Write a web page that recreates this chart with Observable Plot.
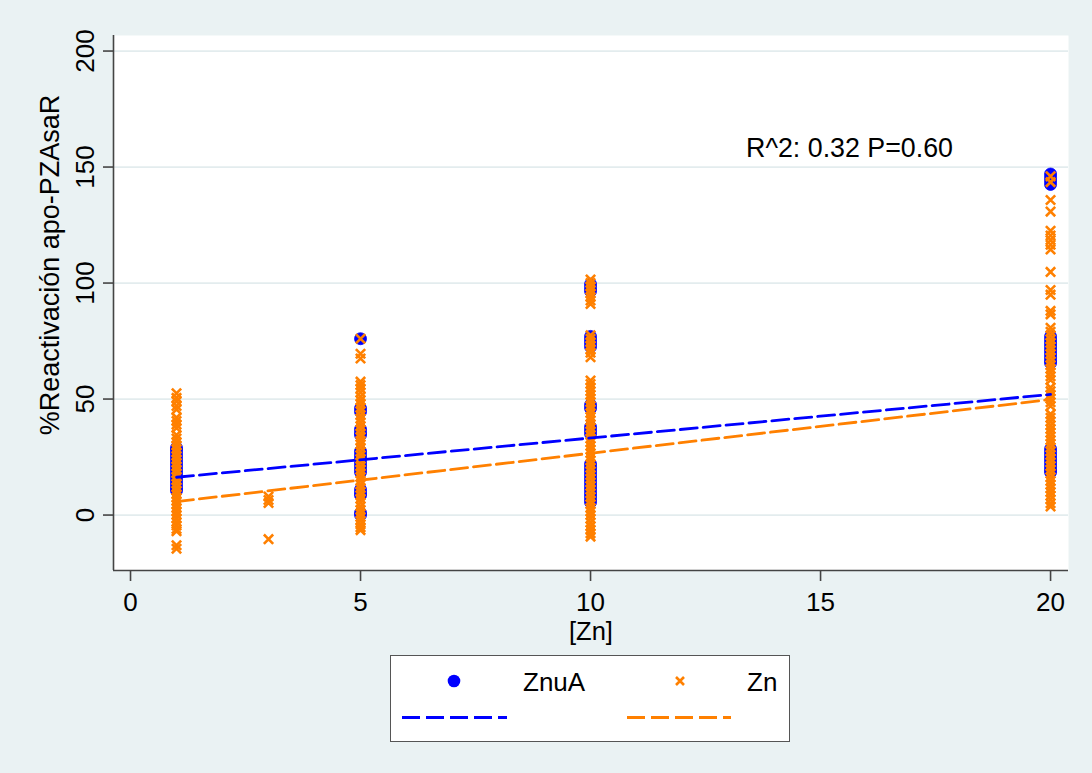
<!DOCTYPE html>
<html>
<head>
<meta charset="utf-8">
<script src="https://cdn.jsdelivr.net/npm/d3@7"></script>
<script src="https://cdn.jsdelivr.net/npm/@observablehq/plot@0.6"></script>
<style>
  body { margin: 0; background: #eaf2f3; font-family: "Liberation Sans", Arial, sans-serif; }
  #wrap { position: relative; width: 1092px; height: 773px; background: #eaf2f3; }
  #legend { position: absolute; left: 390px; top: 655px; width: 400px; height: 87px; box-sizing: border-box;
            border: 1.5px solid #555; background: #fff; }
</style>
</head>
<body>
<div id="wrap">
  <div id="chart"></div>
  <div id="legend"></div>
</div>
<script>
// ---- data ----
const xTicks = [0, 5, 10, 15, 20];
const yTicks = [0, 50, 100, 150, 200];
const xDomain = [-0.37, 20.39];
const yDomain = [-23.9, 206.7];

const seriesNames = ["ZnuA", "Zn"];
const seriesColors = ["#0000ff", "#ff8000"];

// ZnuA (blue circles) at each [Zn] level
const znua_1 = [29, 28, 26.5, 25, 23.5, 22, 20.5, 19, 17.5, 16, 14.5, 13, 11.5, 10.5];
const znua_5 = [76, 46, 44.5, 37, 35.5, 34.5, 27.5, 26, 24.5, 23, 21.5, 20, 18.5, 11, 9.5, 8.5, 1, 0];
const znua_10 = [99.5, 98, 96.5, 77, 75.5, 74, 72.5, 47.5, 46, 38, 36.5, 35, 22, 20.5, 19, 17.5, 16, 14.5, 13, 11.5, 10, 8.5, 7, 5.5];
const znua_20 = [147, 145.5, 144, 142.5, 77, 75.5, 74, 72.5, 71, 69.5, 68, 66.5, 65.5, 28.5, 27, 25.5, 24, 22.5, 21, 19.5, 18.5];

// Zn (orange crosses) at each [Zn] level
const zn_1 = [52.5, 50.5, 49, 47, 45.5, 42, 40.5, 39, 37.5, 34.5, 33, 31.5, 30, 28.5, 27, 25.5, 24, 22.5, 21, 19.5, 18, 16.5, 15, 13.5, 12, 10.5, 9, 7.5, 6, 4.5, 3, 1.5, 0, -1.5, -3, -4.5, -6, -7, -13, -14.5];
const zn_3 = [8, 6.5, 5.2, -10.4];
const zn_5 = [76, 69.5, 67.5, 57.5, 56, 54.5, 52.8, 51, 49.5, 48, 46.3, 44.8, 43, 41.5, 40, 38.4, 36.8, 35, 33.6, 32, 30.5, 29, 27.3, 25.8, 24.2, 22.7, 21, 19.5, 18, 16.4, 14.8, 13.2, 11.7, 10, 8.5, 7, 5.4, 3.8, 2.2, 0.7, -0.8, -2.4, -4, -5.3, -6.5];
const zn_10 = [101.5, 100, 98.5, 97, 95.5, 94, 92.5, 91, 77.5, 76, 74.5, 73, 71.5, 70, 68, 58, 56.5, 55, 53.4, 51.8, 50.2, 48.7, 47, 45.5, 44, 42.3, 40.8, 39.2, 37.6, 36, 34.5, 33, 31.4, 29.8, 28.2, 26.7, 25, 23.5, 22, 20.4, 18.8, 17.2, 15.7, 14, 12.5, 11, 9.4, 7.8, 6.2, 4.7, 3, 1.5, 0, -1.6, -3.2, -4.8, -6.4, -7.9, -9.3];
const zn_20 = [146, 143.5, 135.8, 130.8, 122.5, 120.5, 118.5, 116.5, 114.5, 104.8, 97, 95, 88, 86.5, 80.7, 79, 77.4, 75.8, 74.2, 72.6, 71, 69.4, 67.8, 66.2, 64.6, 63, 61.4, 59.8, 58.2, 55, 53.4, 51.8, 50.2, 48.6, 47, 43.5, 41.9, 40.3, 38.7, 37.1, 35.5, 33.9, 32.3, 30.7, 29.1, 27.5, 25.9, 24.3, 22.7, 21.1, 19.5, 17.9, 16.3, 14.7, 13.1, 11.5, 9.9, 8.3, 6.7, 5.1, 3.7];

// fitted lines (endpoints at min and max [Zn])
const fitX = [1, 20];
const znuaFit = [16.3, 52];
const znFit = [5.8, 49.8];

const annotation = "R^2: 0.32 P=0.60";
const annotX = 13.38;
const annotY = 158.2;
const xLabel = "[Zn]";
const yLabel = "%Reactivación apo-PZAsaR";

// ---- build tables ----
const rows = (x, ys) => ys.map(y => ({x, y}));
const znuaRows = [].concat(rows(1, znua_1), rows(5, znua_5), rows(10, znua_10), rows(20, znua_20));
const znRows = [].concat(rows(1, zn_1), rows(3, zn_3), rows(5, zn_5), rows(10, zn_10), rows(20, zn_20));
const znuaFitRows = fitX.map((x, i) => ({x, y: znuaFit[i]}));
const znFitRows = fitX.map((x, i) => ({x, y: znFit[i]}));

const blue = seriesColors[0], orange = seriesColors[1];
const axisColor = "#444";
const gridColor = "#e3ecee";

const plot = Plot.plot({
  width: 1092,
  height: 650,
  marginLeft: 113,
  marginRight: 24,
  marginTop: 35,
  marginBottom: 80,
  style: {fontFamily: "'Liberation Sans', Arial, sans-serif", fontSize: "26px", background: "transparent", color: "#000"},
  x: {domain: xDomain},
  y: {domain: yDomain},
  marks: [
    Plot.frame({fill: "white", stroke: null}),
    Plot.ruleY(yTicks, {stroke: gridColor, strokeWidth: 1.8}),
    Plot.dot(znuaRows, {x: "x", y: "y", r: 6, fill: blue, stroke: blue, strokeWidth: 0.8}),
    Plot.dot(znRows, {x: "x", y: "y", symbol: "times", r: 4.3, stroke: orange, strokeWidth: 2.6}),
    Plot.line(znuaFitRows, {x: "x", y: "y", stroke: blue, strokeWidth: 2.8, strokeDasharray: "17,6"}),
    Plot.line(znFitRows, {x: "x", y: "y", stroke: orange, strokeWidth: 2.8, strokeDasharray: "17,6"}),
    Plot.ruleX([xDomain[0]], {stroke: axisColor, strokeWidth: 1.6}),
    Plot.ruleY([yDomain[0]], {stroke: axisColor, strokeWidth: 1.6}),
    Plot.text([annotation], {x: annotX, y: annotY, text: d => d, textAnchor: "start", fontSize: 26.8, fill: "#000"}),
    Plot.axisX(xTicks, {tickSize: 11, tickPadding: 11, stroke: axisColor, strokeWidth: 1.6, fontSize: 26, label: null}),
    Plot.axisY(yTicks, {tickSize: 10, tickPadding: 10, tickRotate: -90, stroke: axisColor, strokeWidth: 1.6, fontSize: 26, label: null}),
    Plot.text([xLabel], {frameAnchor: "bottom", dy: 69, textAnchor: "middle", text: d => d, fontSize: 25.5, fill: "#000"}),
    Plot.text([yLabel], {frameAnchor: "left", dx: -63, dy: -38, rotate: -90, textAnchor: "middle", text: d => d, fontSize: 27, fill: "#000"})
  ]
});
document.getElementById("chart").appendChild(plot);

// ---- legend ----
const ns = "http://www.w3.org/2000/svg";
const lg = document.createElementNS(ns, "svg");
lg.setAttribute("width", 397);
lg.setAttribute("height", 84);
lg.style.display = "block";
const items = [
  {name: seriesNames[0], color: blue, sym: "dot", mx: 63, tx: 132, lx0: 11, lx1: 116},
  {name: seriesNames[1], color: orange, sym: "x", mx: 289, tx: 356, lx0: 236, lx1: 340}
];
items.forEach(it => {
  if (it.sym === "dot") {
    const c = document.createElementNS(ns, "circle");
    c.setAttribute("cx", it.mx); c.setAttribute("cy", 25); c.setAttribute("r", 6.3);
    c.setAttribute("fill", it.color);
    lg.appendChild(c);
  } else {
    const p = document.createElementNS(ns, "path");
    const m = it.mx, y = 25, r = 4;
    p.setAttribute("d", `M${m-r},${y-r}L${m+r},${y+r}M${m-r},${y+r}L${m+r},${y-r}`);
    p.setAttribute("stroke", it.color); p.setAttribute("stroke-width", 2.6);
    lg.appendChild(p);
  }
  const t = document.createElementNS(ns, "text");
  t.setAttribute("x", it.tx); t.setAttribute("y", 34.5);
  t.setAttribute("font-size", 26);
  t.setAttribute("font-family", "'Liberation Sans', Arial, sans-serif");
  t.textContent = it.name;
  lg.appendChild(t);
  const l = document.createElementNS(ns, "line");
  l.setAttribute("x1", it.lx0); l.setAttribute("x2", it.lx1);
  l.setAttribute("y1", 61.5); l.setAttribute("y2", 61.5);
  l.setAttribute("stroke", it.color); l.setAttribute("stroke-width", 3);
  l.setAttribute("stroke-dasharray", "18,6");
  lg.appendChild(l);
});
document.getElementById("legend").appendChild(lg);
</script>
</body>
</html>
